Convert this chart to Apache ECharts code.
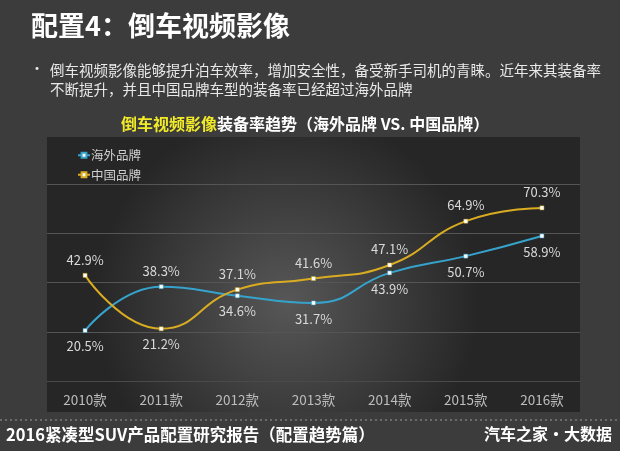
<!DOCTYPE html>
<html>
<head>
<meta charset="utf-8">
<script src="https://cdn.jsdelivr.net/npm/echarts@6/dist/echarts.min.js"></script>
<style>
  html, body { margin: 0; padding: 0; background: #3c3c3c; }
  #main { width: 620px; height: 451px; }
</style>
</head>
<body>
<div id="main"></div>
<script>
   // 数据
   var years = ['2010款', '2011款', '2012款', '2013款', '2014款', '2015款', '2016款'];
   var overseas = [20.5, 38.3, 34.6, 31.7, 43.9, 50.7, 58.9];   // 海外品牌
   var chinese = [42.9, 21.2, 37.1, 41.6, 47.1, 64.9, 70.3];    // 中国品牌
   var yTicks = [0, 20, 40, 60, 80];

   var FONT = '"Noto Sans CJK SC", "Noto Sans", sans-serif';

   // 数值大的标签在上，小的在下
   function withLabels(vals, other) {
       return vals.map(function (v, i) {
           return { value: v, label: { position: v >= other[i] ? 'top' : 'bottom' } };
       });
   }

   var myChart = echarts.init(document.getElementById('main'));
   myChart.setOption({
       backgroundColor: '#3c3c3c',
       animation: false,
       textStyle: { fontFamily: FONT },
       graphic: [
           // 图表底板
           {
               type: 'rect', z: -10, silent: true,
               shape: { x: 47, y: 137, width: 533, height: 275 },
               style: {
                   fill: new echarts.graphic.RadialGradient(0.45, 0.6, 0.7, [
                       { offset: 0, color: '#575757' },
                       { offset: 1, color: '#262626' }
                   ])
               }
           },
           {
               type: 'text', left: 31, top: 12,
               style: { text: '配置4：倒车视频影像', fill: '#ffffff', font: 'bold 27px ' + FONT }
           },
           {
               type: 'text', left: 30, top: 61,
               style: { text: '•', fill: '#e8e8e8', font: '14px ' + FONT }
           },
           {
               type: 'text', left: 50, top: 61,
               style: {
                   text: '倒车视频影像能够提升泊车效率，增加安全性，备受新手司机的青睐。近年来其装备率\n不断提升，并且中国品牌车型的装备率已经超过海外品牌',
                   fill: '#e8e8e8', font: '14.5px ' + FONT, lineHeight: 19
               }
           },
           {
               type: 'text', left: 121, top: 116,
               style: {
                   text: '{y|倒车视频影像}{w|装备率趋势（海外品牌 VS. 中国品牌）}',
                   rich: {
                       y: { fill: '#f2ea28', font: 'bold 16px ' + FONT },
                       w: { fill: '#ffffff', font: 'bold 16px ' + FONT }
                   }
               }
           },
           // 底部虚线
           {
               type: 'line', silent: true,
               shape: { x1: 0, y1: 420, x2: 620, y2: 420 },
               style: { stroke: '#9a9a9a', lineWidth: 1, lineDash: [2, 3] }
           },
           {
               type: 'text', left: 6, top: 426,
               style: { text: '2016紧凑型SUV产品配置研究报告（配置趋势篇）', fill: '#ffffff', font: 'bold 16.5px ' + FONT }
           },
           {
               type: 'text', right: 8, top: 426,
               style: { text: '汽车之家•大数据', fill: '#ffffff', font: 'bold 16px ' + FONT }
           }
       ],
       legend: {
           orient: 'vertical',
           left: 72, top: 144,
           itemWidth: 12, itemHeight: 6, itemGap: 7,
           textStyle: { color: '#cfcfcf', fontSize: 12.5, fontFamily: FONT, padding: [0, 0, 0, -4] },
           data: ['海外品牌', '中国品牌']
       },
       grid: { left: 47, right: 40, top: 184, bottom: 70 },
       xAxis: {
           type: 'category',
           data: years,
           axisLine: { lineStyle: { color: '#4a4a4a' } },
           axisTick: { show: false },
           axisLabel: { color: '#bdbdbd', fontSize: 13.5, margin: 12 }
       },
       yAxis: {
           type: 'value',
           min: yTicks[0], max: yTicks[yTicks.length - 1], interval: 20,
           axisLabel: { show: false },
           axisLine: { show: false },
           axisTick: { show: false },
           splitLine: { lineStyle: { color: '#555555' } }
       },
       series: [
           {
               name: '海外品牌', type: 'line', smooth: 0.5,
               data: withLabels(overseas, chinese),
               symbol: 'rect', symbolSize: 4,
               lineStyle: { color: '#36a3cc', width: 2 },
               itemStyle: { color: '#ffffff', borderColor: '#36a3cc', borderWidth: 0.5 },
               label: { show: true, color: '#d9d9d9', fontSize: 13, distance: 7, formatter: '{c}%' }
           },
           {
               name: '中国品牌', type: 'line', smooth: 0.5,
               data: withLabels(chinese, overseas),
               symbol: 'rect', symbolSize: 4,
               lineStyle: { color: '#d9ac22', width: 2 },
               itemStyle: { color: '#ffffff', borderColor: '#d9ac22', borderWidth: 0.5 },
               label: { show: true, color: '#d9d9d9', fontSize: 13, distance: 7, formatter: '{c}%' }
           }
       ]
   });
</script>
</body>
</html>
